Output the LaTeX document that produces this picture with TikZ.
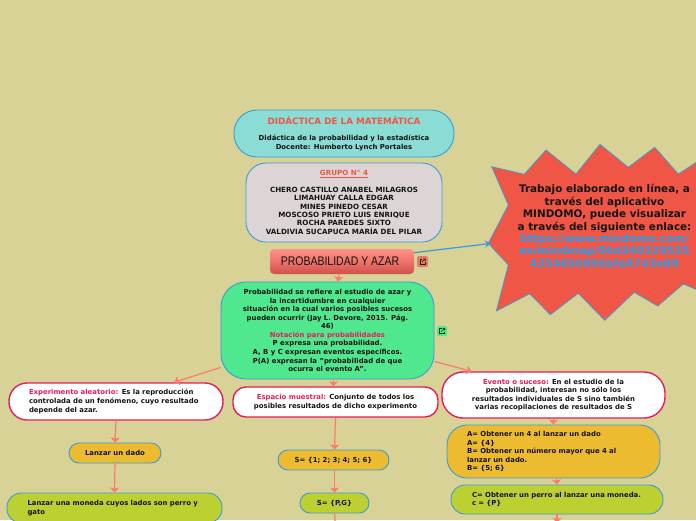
\documentclass[tikz,border=0pt]{standalone}
\usepackage{fontspec}
\setmainfont{DejaVu Sans}
\newfontfamily\titlefont[FakeStretch=0.84]{Liberation Sans}
\usetikzlibrary{arrows.meta,calc}
\definecolor{bgc}{RGB}{216,210,150}
\definecolor{edgeblue}{RGB}{56,155,220}
\definecolor{linkb}{RGB}{45,155,232}
\definecolor{salmon}{RGB}{255,122,108}
\definecolor{crim}{RGB}{228,30,90}
\definecolor{redt}{RGB}{239,86,70}
\definecolor{teal}{RGB}{138,220,212}
\definecolor{greyb}{RGB}{221,213,213}
\definecolor{mint}{RGB}{79,232,143}
\definecolor{gold}{RGB}{237,187,48}
\definecolor{lime}{RGB}{189,208,49}
\definecolor{txt}{RGB}{20,20,20}
\definecolor{ttop}{RGB}{255,146,136}
\definecolor{tmid}{RGB}{238,115,106}
\definecolor{tbot}{RGB}{205,80,76}
\newcommand{\sm}{\fontsize{6.9}{8.55}\selectfont\bfseries}
\newcommand{\lnn}[1]{\leavevmode\rlap{#1}}
\newcommand{\linkt}[1]{{\fontsize{10.9}{12.4}\selectfont\textcolor{linkb}{#1}}}
\tikzset{
 box/.style={draw=edgeblue,line width=0.9pt,align=center,text=txt,font=\sm,inner sep=0pt},
 wbox/.style={draw=crim,line width=1.4pt,fill=white,align=center,text=txt,font=\sm,inner sep=0pt},
 conn/.style={draw=salmon,line width=1.2pt,-{Stealth[length=5pt,width=9pt,inset=1pt]}},
 iconbox/.style={rounded corners=1.5pt,minimum size=11pt,inner sep=0pt},
 iconline/.style={draw=black!80!green,line width=0.6pt}
}
\newcommand{\extlink}[1]{%
 \draw[iconline] ($(#1)+(-0.5,-2.5)$) -- ($(#1)+(-2.5,-2.5)$) -- ($(#1)+(-2.5,2.5)$) -- ($(#1)+(2.5,2.5)$) -- ($(#1)+(2.5,0.5)$);
 \draw[iconline] ($(#1)+(-0.5,0.5)$) -- ($(#1)+(2.7,-2.7)$) ($(#1)+(0.7,-2.7)$) -- ($(#1)+(2.7,-2.7)$) -- ($(#1)+(2.7,-0.7)$);
}
\begin{document}
\begin{tikzpicture}[x=1pt,y=-1pt]
\useasboundingbox (0,0) rectangle (696,520);
\fill[bgc] (0,0) rectangle (696,520);
% star
\draw[fill=redt,draw=edgeblue,line width=0.7pt] (491.7,166.7) -- (524.3,174.3) -- (546,150) -- (576,174) -- (600,144.3) -- (628.3,167.3) -- (654.7,147.3) -- (678.3,174) -- (700,160) -- (700,291) -- (683.3,284) -- (657.7,306) -- (634.3,292.3) -- (604.7,320.3) -- (578.3,293.3) -- (550.3,314.7) -- (529.7,293.7) -- (496.3,311) -- (508.3,265) -- (488.3,243.3) -- (508.3,205) -- cycle;
\coordinate (starin) at (491,243.4);
\node[text=txt,align=center,font=\fontsize{10.4}{12.4}\selectfont\bfseries] (startext) at (604.5,226) {Trabajo elaborado en línea, a\\través del aplicativo\\MINDOMO, puede visualizar\\a través del siguiente enlace:\\\linkt{https://www.mindomo.com/}\\\linkt{es/mindmap/06d340329535}\\\linkt{4354856896bfe8743e89}};
% boxes
\node[box,fill=teal,rounded corners=23pt,minimum width=220pt,minimum height=47pt] (top) at (344,133.5) {{\fontsize{8.8}{8.4}\selectfont\textcolor{redt}{DIDÁCTICA DE LA MATEMÁTICA}}\\[8pt]Didáctica de la probabilidad y la estadística\\Docente: Humberto Lynch Portales};
\node[box,fill=greyb,rounded corners=20pt,minimum width=196pt,minimum height=79pt,font=\fontsize{7.15}{8.4}\selectfont\bfseries] (grupo) at (344,202.5) {\textcolor{redt}{\underline{GRUPO N° 4}}\\[8pt]CHERO CASTILLO ANABEL MILAGROS\\LIMAHUAY CALLA EDGAR\\MINES PINEDO CESAR\\MOSCOSO PRIETO LUIS ENRIQUE\\ROCHA PAREDES SIXTO\\VALDIVIA SUCAPUCA MARÍA DEL PILAR};
\node[rounded corners=4pt,top color=ttop,bottom color=tbot,middle color=tmid,minimum width=144pt,minimum height=25pt,inner sep=0pt,font=\titlefont\fontsize{12.5}{14}\selectfont,text=txt] (title) at (342,261.5) {PROBABILIDAD Y AZAR\kern4pt};
\node[iconbox,fill=tmid] (ic1) at (422.5,261.5) {};
\extlink{ic1}
\node[box,fill=mint,rounded corners=25pt,minimum width=213pt,minimum height=97pt] (main) at (327.5,330.5) {Probabilidad se refiere al estudio de azar y\\la incertidumbre en cualquier\\situación en la cual varios posibles sucesos\\pueden ocurrir (Jay L. Devore, 2015. Pág.\\46)\\\textcolor{crim}{Notación para probabilidades}\\P expresa una probabilidad.\\A, B y C expresan eventos específicos.\\P(A) expresan la "probabilidad de que\\ocurra el evento A".};
\node[iconbox,fill=mint,minimum size=10pt] (ic2) at (442,331) {};
\extlink{ic2}
\node[wbox,rounded corners=18pt,minimum width=214pt,minimum height=37pt,text width=174pt,align=left] (exper) at (116,401.5) {\lnn{\textcolor{crim}{Experimento aleatorio:} Es la reproducción}\\\lnn{controlada de un fenómeno, cuyo resultado}\\\lnn{depende del azar.}};
\node[box,fill=gold,rounded corners=10pt,minimum width=92pt,minimum height=20pt] (dado) at (115,453) {Lanzar un dado};
\node[box,fill=lime,rounded corners=14pt,minimum width=215pt,minimum height=30pt,text width=174pt,align=left] (moneda) at (114.5,508) {\lnn{Lanzar una moneda cuyos lados son perro y}\\\lnn{gato}};
\node[wbox,rounded corners=13pt,minimum width=205pt,minimum height=30pt] (espacio) at (335.5,402) {\textcolor{crim}{Espacio muestral:} Conjunto de todos los\\posibles resultados de dicho experimento};
\node[box,fill=gold,rounded corners=10pt,minimum width=111pt,minimum height=20pt] (s1) at (333.5,460) {S= \{1; 2; 3; 4; 5; 6\}};
\node[box,fill=lime,rounded corners=10pt,minimum width=69pt,minimum height=20pt] (s2) at (334.5,503) {S= \{P,G\}};
\node[wbox,rounded corners=21pt,minimum width=223pt,minimum height=46pt] (evento) at (553.5,395) {\textcolor{crim}{Evento o suceso:} En el estudio de la\\probabilidad, interesan no sólo los\\resultados individuales de S sino también\\varias recopilaciones de resultados de S};
\node[box,fill=gold,rounded corners=20pt,minimum width=213pt,minimum height=53pt,text width=173pt,align=left] (ab) at (553.5,451.5) {\lnn{A= Obtener un 4 al lanzar un dado}\\A= \{4\}\\\lnn{B= Obtener un número mayor que 4 al}\\lanzar un dado.\\B= \{5; 6\}};
\node[box,fill=lime,rounded corners=14pt,minimum width=212pt,minimum height=29pt,text width=170pt,align=left] (c) at (557,499.5) {\lnn{C= Obtener un perro al lanzar una moneda.}\\c = \{P\}};
\coordinate (below1) at (335.5,527);
\coordinate (below2) at (557,523);
% connectors
\draw[draw=edgeblue,line width=1.2pt,-{Stealth[length=6pt,width=7pt]}] (title.east |- 0,252.7) -- (starin);
\draw[conn] ([xshift=-3pt]title.south) -- ([xshift=10.5pt]main.north);
\draw[conn] ([yshift=12pt]main.south west) -- ([xshift=58pt]exper.north);
\draw[conn] ([yshift=18pt]main.south east) -- ([xshift=-82pt]evento.north);
\draw[conn] ([xshift=6pt]main.south) -- ([xshift=-2pt]espacio.north);
\draw[conn] (exper.south) -- (dado.north);
\draw[conn] (dado.south) -- (moneda.north);
\draw[conn] (espacio.south) -- ([xshift=1pt]s1.north);
\draw[conn] ([xshift=1pt]s1.south) -- (s2.north);
\draw[conn] (s2.south) -- (below1);
\draw[conn] (evento.south) -- (ab.north);
\draw[conn] ([xshift=3pt]ab.south) -- (c.north);
\draw[conn] (c.south) -- (below2);
\end{tikzpicture}
\end{document}
